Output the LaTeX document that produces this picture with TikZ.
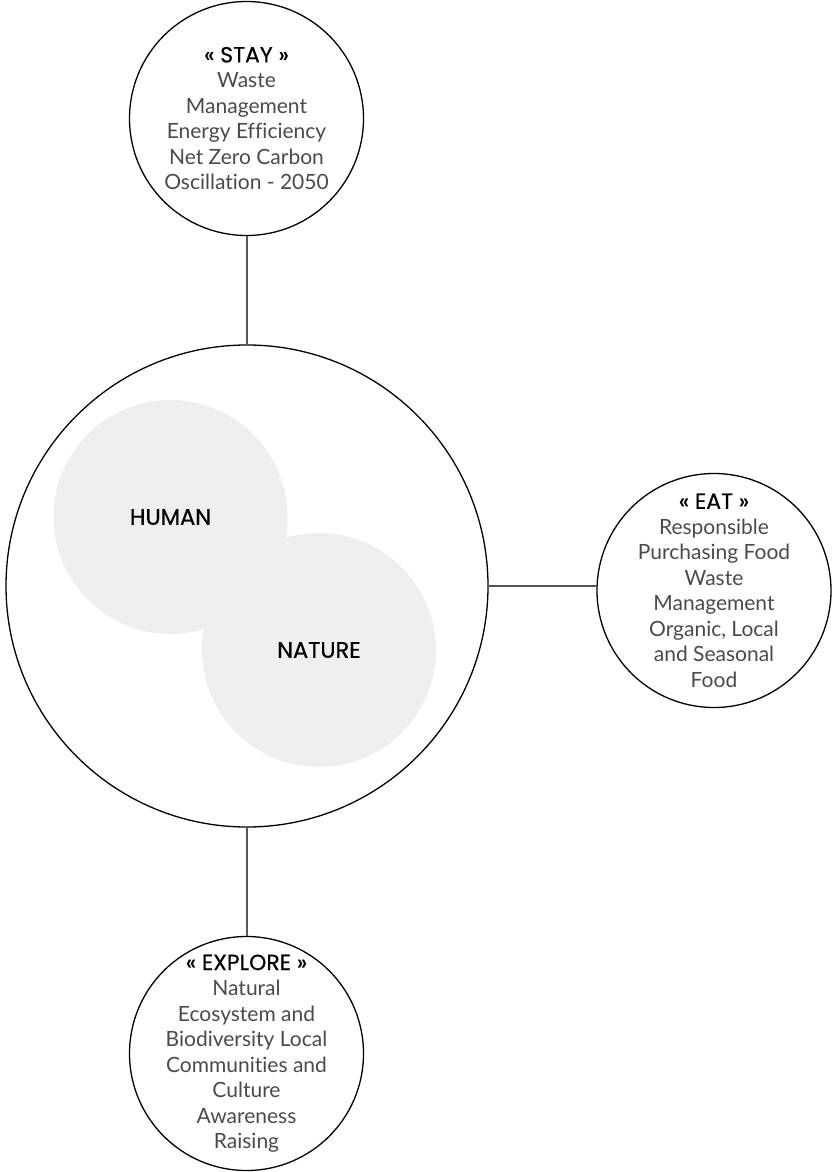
\documentclass[tikz,border=0pt]{standalone}
\usepackage{fontspec}
\setmainfont{Lato}[Ligatures=NoCommon]
\newfontfamily\titlefont{Poppins}[FakeBold=0.5]
\definecolor{blobfill}{HTML}{EFF0EE}
\definecolor{bodytext}{HTML}{4A4A4A}
\definecolor{linegray}{HTML}{555555}
\begin{document}
\begin{tikzpicture}[x=1pt,y=-1pt,
  core/.style={circle,draw=black,line width=1.3pt,minimum size=482pt,inner sep=0pt},
  blob/.style={circle,fill=blobfill,minimum size=234pt,inner sep=0pt},
  blobtext/.style={inner sep=0pt,font=\titlefont\fontsize{22.5}{24}\selectfont},
  topic/.style={circle,draw=black,line width=1.3pt,minimum size=234pt,inner sep=0pt},
  topictext/.style={inner sep=0pt,align=center,text=bodytext,font=\fontsize{21}{25.5}\selectfont},
  ttl/.style={},
  conn/.style={draw=linegray,line width=2pt}]
\newcommand{\ttlfmt}[1]{{\titlefont\color{black}\fontsize{22}{25.5}\selectfont #1}}
\useasboundingbox (0,0) rectangle (833,1172);
\node[core] (core) at (247,586) {};
\node[blob] (human) at (170.5,517) {};
\node[blob] (nature) at (319,650) {};
\node[blobtext] (humantxt) at (human) {HUMAN};
\node[blobtext] (naturetxt) at (nature) {NATURE};
\node[topic] (stay) at (246.5,118.5) {};
\node[topic] (eat) at (714,590.5) {};
\node[topic] (explore) at (246.5,1053.5) {};
\node[topictext] (staytxt) at (stay) {\ttlfmt{« STAY »}\\Waste\\Management\\Energy Efficiency\\Net Zero Carbon\\Oscillation - 2050};
\node[topictext] (eattxt) at (eat) {\ttlfmt{« EAT »}\\Responsible\\Purchasing Food\\Waste\\Management\\Organic, Local\\and Seasonal\\Food};
\node[topictext] (exploretxt) at (explore) {\ttlfmt{« EXPLORE »}\\Natural\\Ecosystem and\\Biodiversity Local\\Communities and\\Culture\\Awareness\\Raising};
\draw[conn] (stay.south) -- (stay.south |- core.north);
\draw[conn] (core.east) -- (eat.west |- core.east);
\draw[conn] (core.south) -- (core.south |- explore.north);
\end{tikzpicture}
\end{document}
